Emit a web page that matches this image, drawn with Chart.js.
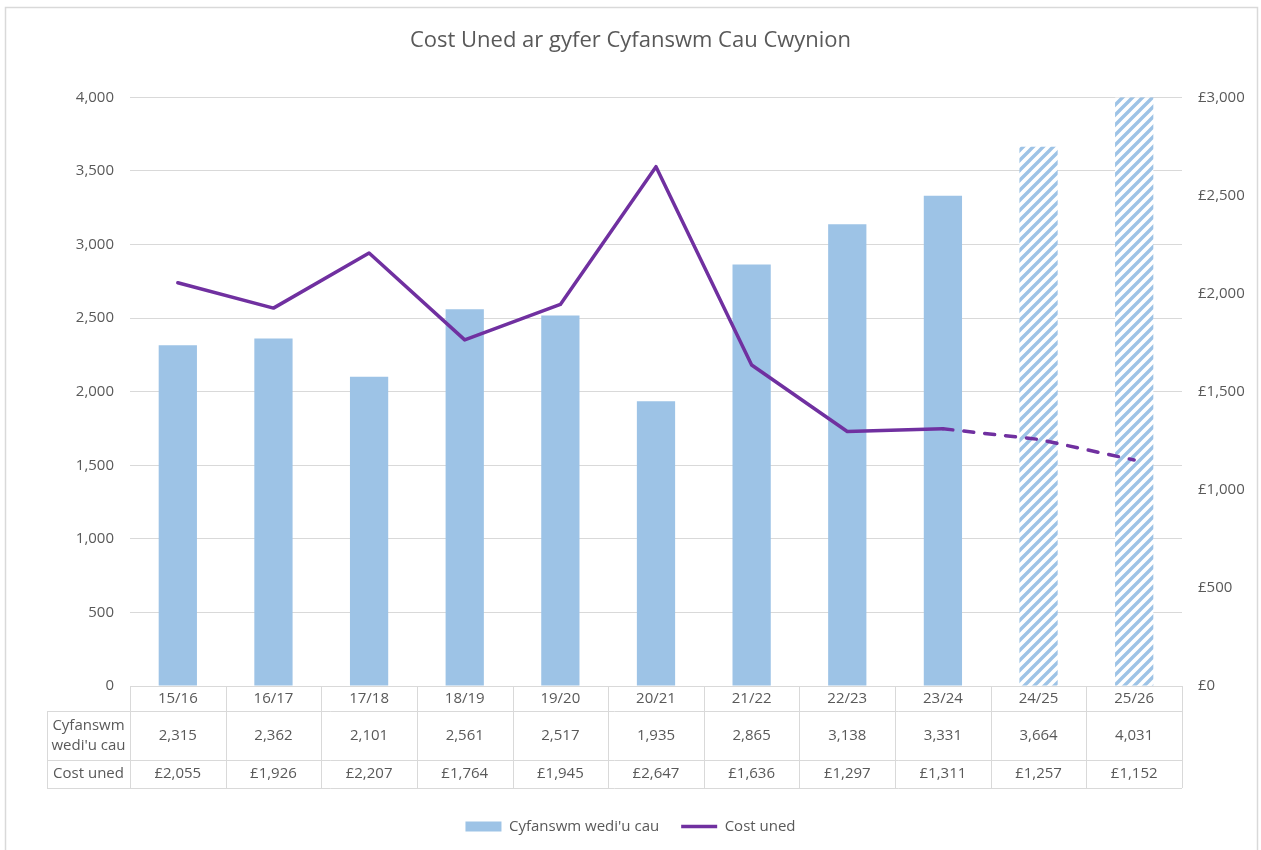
<!DOCTYPE html>
<html>
<head>
<meta charset="utf-8">
<script src="https://cdn.jsdelivr.net/npm/chart.js@4.4.0/dist/chart.umd.min.js"></script>
<style>
  html, body { margin: 0; padding: 0; background: #fff; }
  #wrap { width: 1261px; height: 850px; }
</style>
</head>
<body>
<div id="wrap"><canvas id="chart-cost" width="1261" height="850"></canvas></div>
<script>
// Data
const years = ['15/16', '16/17', '17/18', '18/19', '19/20', '20/21', '21/22', '22/23', '23/24', '24/25', '25/26'];
const closedTotals = [2315, 2362, 2101, 2561, 2517, 1935, 2865, 3138, 3331, 3664, 4031];
const unitCosts = [2055, 1926, 2207, 1764, 1945, 2647, 1636, 1297, 1311, 1257, 1152];
const firstForecast = 9; // 24/25 onwards are projections
const leftTicks = [0, 500, 1000, 1500, 2000, 2500, 3000, 3500, 4000];
const rightTicks = [0, 500, 1000, 1500, 2000, 2500, 3000];
const barLabel = "Cyfanswm wedi'u cau";
const lineLabel = 'Cost uned';
const tableRowLabels = [['Cyfanswm', "wedi'u cau"], ['Cost uned']];

const BLUE = '#9dc3e6';
const PURPLE = '#7030a0';
const GREY_TEXT = '#595959';
const GRID = '#d9d9d9';
const FONT = "'Open Sans', sans-serif";

const fmt = v => v.toLocaleString('en-GB');
const fmtGbp = v => '£' + v.toLocaleString('en-GB');

function hatchPattern() {
    const s = 10;
    const c = document.createElement('canvas');
    c.width = s; c.height = s;
    const g = c.getContext('2d');
    g.fillStyle = '#fff';
    g.fillRect(0, 0, s, s);
    g.strokeStyle = BLUE;
    g.lineWidth = 3.4;
    g.beginPath();
    g.moveTo(-2, s + 2); g.lineTo(s + 2, -2);
    g.moveTo(-2, 2); g.lineTo(2, -2);
    g.moveTo(s - 2, s + 2); g.lineTo(s + 2, s - 2);
    g.stroke();
    return g.createPattern(c, 'repeat');
}

const hatch = hatchPattern();
const barColors = years.map((_, i) => i >= firstForecast ? hatch : BLUE);

// frame + white background
const framePlugin = {
    id: 'frame',
    beforeDraw(chart) {
        const ctx = chart.ctx;
        ctx.save();
        ctx.fillStyle = '#fff';
        ctx.fillRect(0, 0, chart.width, chart.height);
        ctx.strokeStyle = GRID;
        ctx.lineWidth = 1.5;
        ctx.strokeRect(5.5, 7.5, 1252, 900);
        ctx.restore();
    }
};

// data table under the plot
const tablePlugin = {
    id: 'dataTable',
    afterDraw(chart) {
        const { ctx, chartArea, scales } = chart;
        const x = scales.x;
        const step = (chartArea.right - chartArea.left) / years.length;
        const top = chartArea.bottom;
        const rows = [top, top + 25, top + 74, top + 102];
        const labelLeft = 47;
        const colEdges = years.map((_, i) => x.getPixelForValue(i) - step / 2);
        colEdges.push(chartArea.right);

        ctx.save();
        ctx.strokeStyle = GRID;
        ctx.lineWidth = 1;
        ctx.beginPath();
        // horizontal lines
        ctx.moveTo(chartArea.left, rows[0] + 0.5); ctx.lineTo(chartArea.right, rows[0] + 0.5);
        for (let r = 1; r < rows.length; r++) {
            ctx.moveTo(labelLeft, rows[r] + 0.5); ctx.lineTo(chartArea.right, rows[r] + 0.5);
        }
        // vertical lines
        colEdges.forEach(cx => {
            const px = Math.round(cx) + 0.5;
            ctx.moveTo(px, rows[0]); ctx.lineTo(px, rows[3]);
        });
        ctx.moveTo(labelLeft + 0.5, rows[1]); ctx.lineTo(labelLeft + 0.5, rows[3]);
        ctx.stroke();

        ctx.fillStyle = GREY_TEXT;
        ctx.font = '15px ' + FONT;
        ctx.textAlign = 'center';
        ctx.textBaseline = 'middle';
        const labelCx = (labelLeft + chartArea.left) / 2;
        // row label cells
        const mid1 = (rows[1] + rows[2]) / 2;
        ctx.fillText(tableRowLabels[0][0], labelCx, mid1 - 10);
        ctx.fillText(tableRowLabels[0][1], labelCx, mid1 + 10);
        ctx.fillText(tableRowLabels[1][0], labelCx, (rows[2] + rows[3]) / 2);

        years.forEach((yr, i) => {
            const cx = x.getPixelForValue(i);
            ctx.fillText(yr, cx, (rows[0] + rows[1]) / 2);
            ctx.fillText(fmt(closedTotals[i]), cx, mid1);
            ctx.fillText(fmtGbp(unitCosts[i]), cx, (rows[2] + rows[3]) / 2);
        });
        ctx.restore();
    }
};

Chart.defaults.font.family = FONT;
Chart.defaults.color = GREY_TEXT;

const ctxCost = document.getElementById('chart-cost');
const chart = new Chart(ctxCost, {
    type: 'bar',
    data: {
        labels: years,
        datasets: [
            {
                type: 'bar',
                label: barLabel,
                data: closedTotals,
                backgroundColor: barColors,
                borderWidth: 0,
                barPercentage: 0.4,
                categoryPercentage: 1,
                yAxisID: 'y',
                order: 1
            },
            {
                type: 'line',
                label: lineLabel,
                data: unitCosts,
                borderColor: PURPLE,
                backgroundColor: PURPLE,
                borderWidth: 3.5,
                borderCapStyle: 'round',
                borderJoinStyle: 'round',
                pointRadius: 0,
                tension: 0,
                yAxisID: 'y1',
                order: 0,
                segment: {
                    borderDash: c => c.p0DataIndex >= firstForecast - 1 ? [10, 11] : undefined
                }
            }
        ]
    },
    options: {
        responsive: false,
        animation: false,
        layout: { padding: { top: 0, bottom: 6, left: 0, right: 0 } },
        plugins: {
            title: {
                display: true,
                text: 'Cost Uned ar gyfer Cyfanswm Cau Cwynion',
                color: GREY_TEXT,
                font: { size: 22, weight: 'normal' },
                padding: { top: 28, bottom: 43 }
            },
            legend: {
                position: 'bottom',
                labels: {
                    color: GREY_TEXT,
                    font: { size: 15 },
                    usePointStyle: true,
                    pointStyleWidth: 36,
                    boxHeight: 10,
                    padding: 22,
                    sort: (a, b) => a.datasetIndex - b.datasetIndex,
                    generateLabels(ch) {
                        const items = Chart.defaults.plugins.legend.labels.generateLabels(ch);
                        items.forEach(it => {
                            if (it.datasetIndex === 0) {
                                it.pointStyle = 'rect';
                                it.fillStyle = BLUE;
                                it.lineWidth = 0;
                            } else {
                                it.pointStyle = 'line';
                                it.strokeStyle = PURPLE;
                                it.lineWidth = 3.5;
                                it.lineDash = [];
                            }
                        });
                        return items;
                    }
                }
            },
            tooltip: { enabled: false }
        },
        scales: {
            x: {
                grid: { display: false },
                border: { display: false },
                ticks: { display: false },
                afterFit(scale) { scale.height = 111; }
            },
            y: {
                position: 'left',
                min: 0,
                max: 4000,
                afterBuildTicks(scale) { scale.ticks = leftTicks.map(v => ({ value: v })); },
                ticks: { callback: v => fmt(v), font: { size: 15 }, color: GREY_TEXT, padding: 16 },
                grid: { color: GRID, drawTicks: false, lineWidth: 1 },
                border: { display: false },
                afterFit(scale) { scale.width = 130; }
            },
            y1: {
                position: 'right',
                min: 0,
                max: 3000,
                afterBuildTicks(scale) { scale.ticks = rightTicks.map(v => ({ value: v })); },
                ticks: { callback: v => fmtGbp(v), font: { size: 15 }, color: GREY_TEXT, padding: 16 },
                grid: { display: false, drawTicks: false },
                border: { display: false },
                afterFit(scale) { scale.width = 79; }
            }
        }
    },
    plugins: [framePlugin, tablePlugin]
});
</script>
</body>
</html>
